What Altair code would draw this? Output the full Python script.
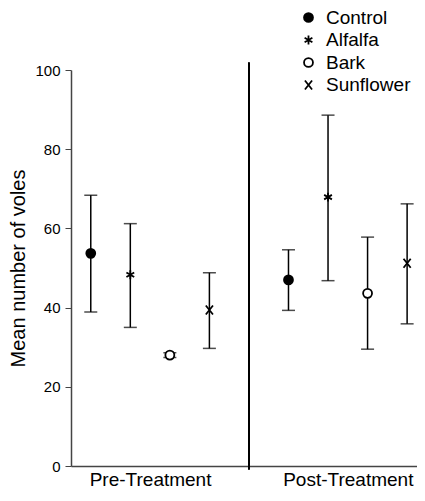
import altair as alt
import pandas as pd

periods = ["Pre-Treatment", "Post-Treatment"]
treatments = ["Control", "Alfalfa", "Bark", "Sunflower"]

pre_mean = [53.7, 48.3, 28.0, 39.4]
pre_low = [38.9, 35.0, 27.4, 29.7]
pre_high = [68.4, 61.2, 28.6, 48.8]

post_mean = [47.0, 67.9, 43.6, 51.2]
post_low = [39.3, 46.8, 29.5, 35.9]
post_high = [54.6, 88.6, 57.8, 66.2]

rows = []
for p_i, (p, means, lows, highs) in enumerate(
    [(periods[0], pre_mean, pre_low, pre_high), (periods[1], post_mean, post_low, post_high)]
):
    for t_i, t in enumerate(treatments):
        rows.append({
            "period": p,
            "treatment": t,
            "slot": p_i * (len(treatments) + 1) + t_i + 1,
            "mean": means[t_i],
            "low": lows[t_i],
            "high": highs[t_i],
        })
df = pd.DataFrame(rows)

FONT = "Liberation Sans"
AX = "#444444"

ASTERISK = "M0,-1L0,1M-0.87,-0.5L0.87,0.5M-0.87,0.5L0.87,-0.5"
XMARK = "M-0.8,-1L0.8,1M-0.8,1L0.8,-1"

xscale = alt.Scale(domain=[0.5, 9.25], nice=False, zero=False)
yscale = alt.Scale(domain=[0, 100], nice=False)

base = alt.Chart(df)

x_enc = alt.X(
    "slot:Q",
    scale=xscale,
    axis=alt.Axis(
        values=[2.5, 7.5],
        labelExpr="datum.value < 5 ? 'Pre-Treatment' : 'Post-Treatment'",
        ticks=False,
        grid=False,
        title=None,
        labelFontSize=19,
        labelFont=FONT,
        labelColor="black",
        labelPadding=4,
        domainColor=AX,
        domainWidth=1.5,
    ),
)

y_enc = alt.Y(
    "mean:Q",
    scale=yscale,
    axis=alt.Axis(
        values=list(range(0, 101, 5)),
        labelExpr="datum.value % 20 === 0 ? datum.label : ''",
        tickSize={"condition": {"test": "datum.value % 20 === 0", "value": 6}, "value": 3},
        tickColor=AX,
        tickWidth=1,
        grid=False,
        title="Mean number of voles",
        titleFontSize=20,
        titleFontWeight="normal",
        titleFont=FONT,
        titleColor="black",
        titlePadding=6,
        labelFontSize=15,
        labelFont=FONT,
        labelColor="black",
        labelPadding=5,
        domainColor=AX,
        domainWidth=1.5,
    ),
)

rules = base.mark_rule(color="black", strokeWidth=1.5).encode(
    x=alt.X("slot:Q", scale=xscale),
    y=alt.Y("low:Q", scale=yscale),
    y2="high:Q",
)

caps_low = base.mark_tick(color="black", orient="horizontal", size=13, thickness=1.5).encode(
    x=alt.X("slot:Q", scale=xscale),
    y=alt.Y("low:Q", scale=yscale),
)
caps_high = base.mark_tick(color="black", orient="horizontal", size=13, thickness=1.5).encode(
    x=alt.X("slot:Q", scale=xscale),
    y=alt.Y("high:Q", scale=yscale),
)

points = base.mark_point(strokeWidth=1.8, opacity=1, size=80).encode(
    x=x_enc,
    y=y_enc,
    shape=alt.Shape(
        "treatment:N",
        scale=alt.Scale(domain=treatments, range=["circle", ASTERISK, "circle", XMARK]),
        legend=alt.Legend(title=None),
    ),
    fill=alt.Fill(
        "treatment:N",
        scale=alt.Scale(domain=treatments, range=["black", "transparent", "white", "transparent"]),
        legend=alt.Legend(title=None),
    ),
    stroke=alt.Stroke(
        "treatment:N",
        scale=alt.Scale(domain=treatments, range=["black", "black", "black", "black"]),
        legend=alt.Legend(title=None),
    ),
)

divider = alt.Chart(df).mark_rule(color="black", strokeWidth=1.5).encode(
    x=alt.datum(5, scale=xscale),
    y=alt.datum(-0.8, scale=yscale),
    y2=alt.datum(101.8),
)

chart = (
    alt.layer(divider, rules, caps_low, caps_high, points)
    .properties(
        width=346,
        height=396,
        autosize=alt.AutoSizeParams(type="none"),
        padding={"left": 63, "top": 62, "right": 0, "bottom": 25},
    )
    .configure_view(stroke=None)
    .configure_legend(
        orient="none",
        legendX=228,
        legendY=-62,
        labelFontSize=19,
        labelFont=FONT,
        labelColor="black",
        labelOffset=8,
        symbolSize=80,
        symbolStrokeWidth=1.8,
        rowPadding=2.5,
        padding=0,
    )
)

chart.save("out.html", embed_options={"renderer": "svg", "actions": False})
